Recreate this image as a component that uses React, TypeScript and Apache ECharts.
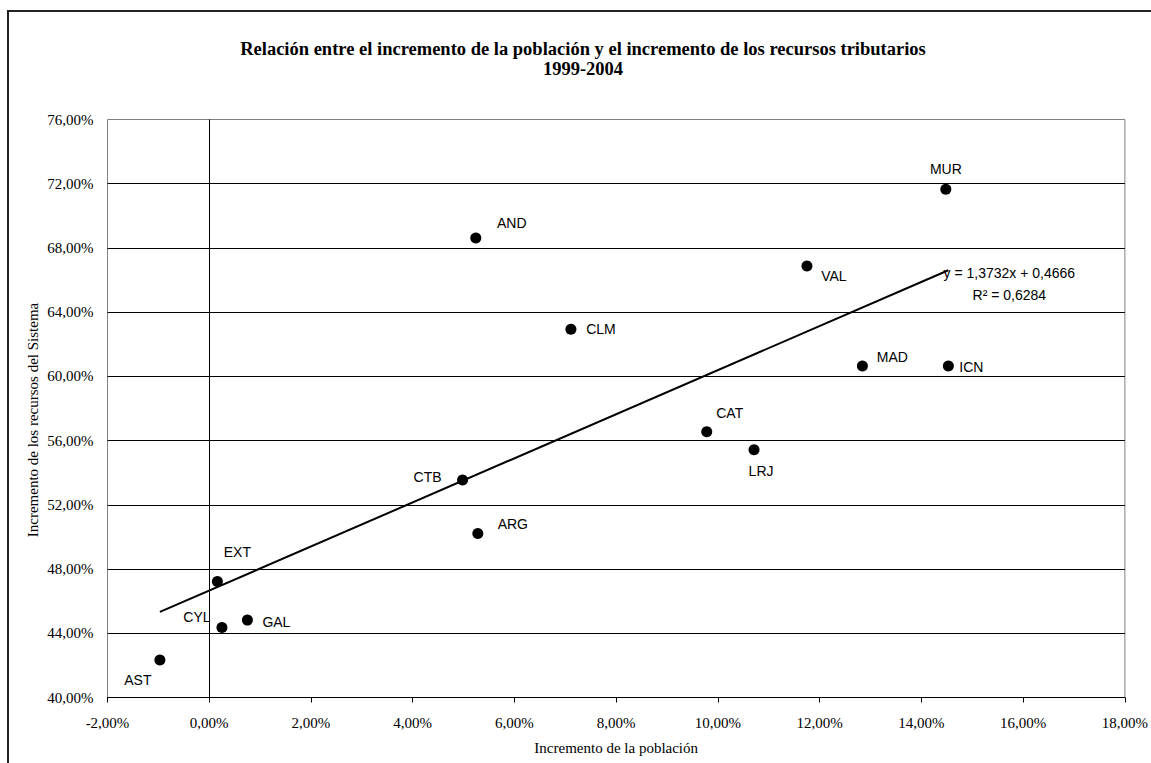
import React, { useEffect, useRef } from "react";
import * as echarts from "echarts";

// Region codes
const REGIONS = ["MUR", "AND", "VAL", "CLM", "MAD", "ICN", "CAT", "LRJ", "CTB", "ARG", "EXT", "CYL", "GAL", "AST"];
// Incremento de la población (%)
const POP_GROWTH = [14.48, 5.24, 11.75, 7.11, 12.84, 14.53, 9.78, 10.71, 4.98, 5.28, 0.16, 0.25, 0.75, -0.97];
// Incremento de los recursos del Sistema (%)
const RES_GROWTH = [71.65, 68.62, 66.88, 62.93, 60.65, 60.65, 56.55, 55.43, 53.55, 50.22, 47.23, 44.36, 44.82, 42.33];
// Trend line (as printed on the chart)
const TREND_SLOPE = 1.3732;
const TREND_INTERCEPT = 0.4666;
const R2 = 0.6284;

const X_MIN = -2, X_MAX = 18, X_STEP = 2;
const Y_MIN = 40, Y_MAX = 76, Y_STEP = 4;

// label offsets (style only)
const LABEL_OFFSETS: number[][] = [
  [0, -20], [36, -15], [27, 10], [30, 0], [30, -9], [23, 1], [23, -19],
  [7, 21], [-35, -3], [35, -9], [20, -29], [-25, -10], [29, 2], [-22, 20],
];

const fmtPct = (v: number) => v.toFixed(2).replace(".", ",") + "%";
const fmtNum = (v: number) => String(v).replace(".", ",");

export default function App() {
  const ref = useRef<HTMLDivElement>(null);
  useEffect(() => {
    if (!ref.current) return;
    const chart = echarts.init(ref.current, null, { renderer: "svg" });
    const serif = "'Liberation Serif', 'Times New Roman', serif";
    const sans = "'Liberation Sans', Arial, sans-serif";

    const scatterData = REGIONS.map((name, i) => ({
      name,
      value: [POP_GROWTH[i], RES_GROWTH[i]],
      label: { offset: LABEL_OFFSETS[i] },
    }));

    const xLo = Math.min(...POP_GROWTH);
    const xHi = Math.max(...POP_GROWTH);
    const trendY = (x: number) => TREND_SLOPE * x + TREND_INTERCEPT * 100;

    chart.setOption({
      animation: false,
      backgroundColor: "#fff",
      title: {
        text: "Relación entre el incremento de la población y el incremento de los recursos tributarios\n1999-2004",
        left: 578,
        top: 34,
        textAlign: "center",
        textStyle: { fontFamily: serif, fontWeight: "bold", fontSize: 18.5, lineHeight: 20, color: "#000" },
      },
      grid: {
        left: 107.5, right: 23, top: 119.5, bottom: 65.5,
        show: true, borderColor: "#808080", borderWidth: 1, backgroundColor: "#fff",
      },
      xAxis: {
        type: "value",
        min: X_MIN, max: X_MAX, interval: X_STEP,
        name: "Incremento de la población",
        nameLocation: "middle",
        nameGap: 43,
        nameTextStyle: { fontFamily: serif, fontSize: 15, color: "#000" },
        axisLine: { show: true, onZero: false, lineStyle: { color: "#000", width: 1 } },
        axisTick: { show: true, inside: false, length: 5, lineStyle: { color: "#000" } },
        axisLabel: { formatter: fmtPct, fontFamily: serif, fontSize: 15, color: "#000", margin: 17, lineHeight: 16 },
        splitLine: { show: false },
      },
      yAxis: {
        type: "value",
        min: Y_MIN, max: Y_MAX, interval: Y_STEP,
        axisLine: { show: false },
        axisTick: { show: false },
        axisLabel: { formatter: fmtPct, fontFamily: serif, fontSize: 15, color: "#000", margin: 14 },
        splitLine: { show: true, showMaxLine: false, lineStyle: { color: "#000", width: 1 } },
      },
      graphic: [
        {
          type: "rect",
          shape: { x: 8, y: 11, width: 1300, height: 900 },
          style: { fill: "none", stroke: "#222", lineWidth: 2 },
          silent: true,
        },
        {
          type: "text",
          x: 33, y: 420,
          rotation: Math.PI / 2,
          style: {
            text: "Incremento de los recursos del Sistema",
            fontFamily: serif, fontSize: 15, fill: "#000",
            align: "center", verticalAlign: "middle",
          },
          silent: true,
        },
      ],
      series: [
        {
          type: "scatter",
          symbol: "circle",
          symbolSize: 11,
          itemStyle: { color: "#000", opacity: 1 },
          data: scatterData,
          label: {
            show: true,
            position: "inside",
            formatter: (p: any) => p.name,
            fontFamily: sans,
            fontSize: 14,
            color: "#000",
          },
          markLine: {
            silent: true,
            symbol: "none",
            label: { show: false },
            lineStyle: { color: "#000", width: 1, type: "solid", opacity: 1 },
            data: [{ xAxis: 0 }],
          },
          z: 3,
        },
        {
          type: "line",
          symbol: "circle",
          symbolSize: 0,
          showSymbol: true,
          lineStyle: { color: "#000", width: 2 },
          itemStyle: { color: "#000" },
          data: [
            { value: [xLo, trendY(xLo)] },
            {
              value: [xHi, trendY(xHi)],
              label: {
                show: true,
                position: "inside",
                offset: [61, 14],
                formatter: `y = ${fmtNum(TREND_SLOPE)}x + ${fmtNum(TREND_INTERCEPT)}\nR² = ${fmtNum(R2)}`,
                fontFamily: sans,
                fontSize: 14,
                lineHeight: 22,
                color: "#000",
                align: "center",
              },
            },
          ],
          z: 2,
        },
      ],
    });
    return () => chart.dispose();
  }, []);
  return <div ref={ref} style={{ position: "absolute", left: 0, top: 0, width: 1151, height: 763 }} />;
}
